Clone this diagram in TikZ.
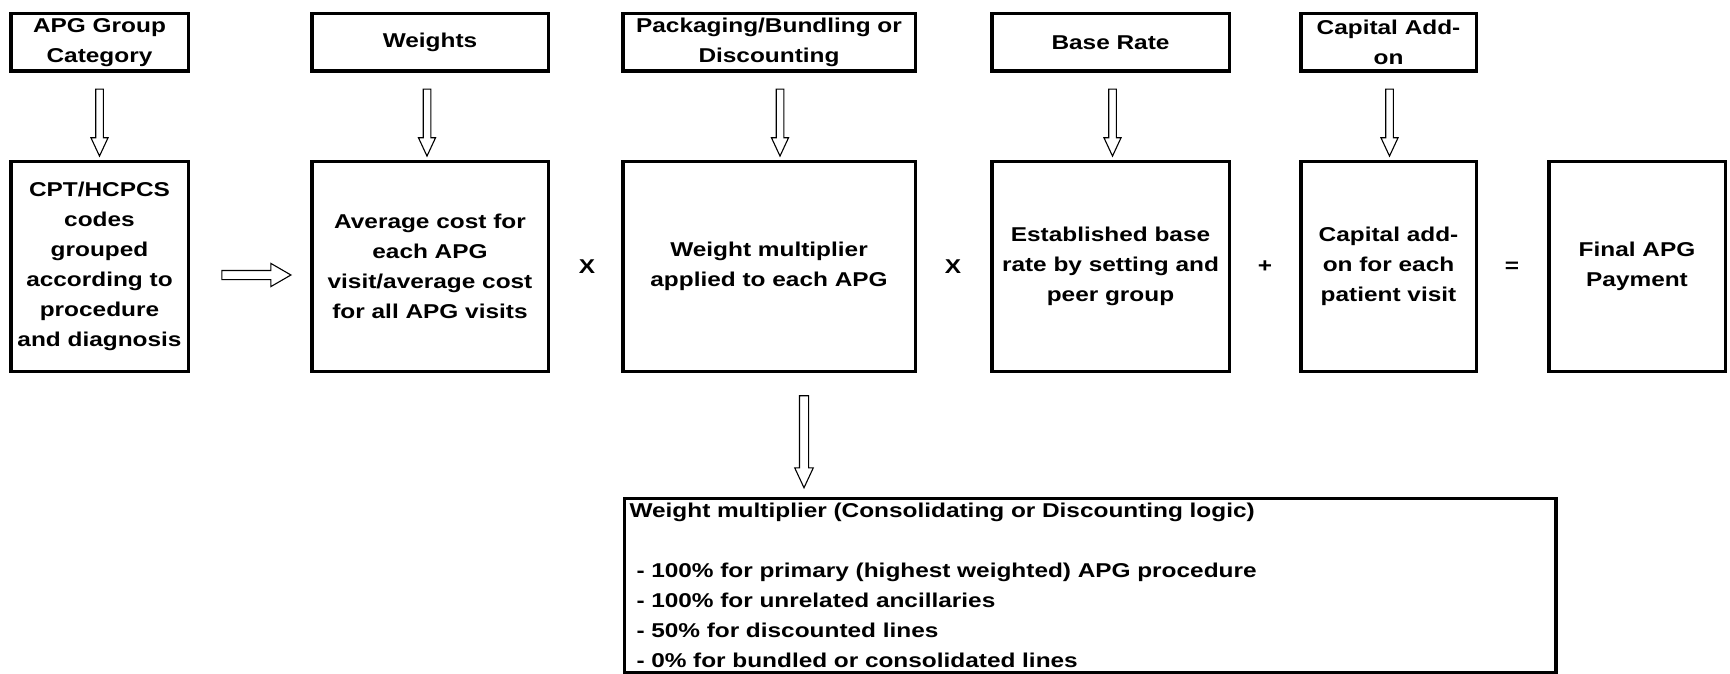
\documentclass[tikz,border=0pt]{standalone}
\usepackage{fontspec}
\setmainfont{Liberation Sans}[FakeStretch=1.22]
\usetikzlibrary{shapes.arrows,positioning,calc}
\newcommand\apgtext{\bfseries\fontsize{20}{30}\selectfont}
\tikzset{
    topbox/.style={draw, line width=3.5pt, minimum height=57.5pt,
    align=center, inner sep=2pt, font=\apgtext},
    stepbox/.style={draw, line width=3.5pt, minimum height=209.5pt,
    align=center, inner sep=2pt, font=\apgtext},
    op/.style={font=\apgtext, inner sep=0pt},
    hollow/.style={single arrow, draw, line width=1.1pt, fill=white,
    single arrow head indent=0pt},
    downarrow/.style={hollow, rotate=-90, inner sep=3.25pt,
    single arrow head extend=4.75pt, single arrow tip angle=50},
    rightarrow/.style={hollow, inner sep=4pt,
    single arrow head extend=7pt, single arrow tip angle=60},
    logicbox/.style={draw, line width=3.5pt, anchor=north west, align=left,
    text width=921.5pt, inner xsep=5pt, inner ysep=5pt,
    font=\bfseries\fontsize{20}{30}\selectfont}
}
\begin{document}
\begin{tikzpicture}[x=1pt, y=-1pt]
  \fill[white] (0,0) rectangle (1730,674);
  \useasboundingbox (0,0) rectangle (1730,674);

  % inputs
  \node[topbox, minimum width=177.5pt] (cat)  at (99.5,42.5)  {APG Group\\Category};
  \node[topbox, minimum width=236.5pt] (wts)  at (430,42.5)   {Weights};
  \node[topbox, minimum width=292.5pt] (pkg)  at (769,42.5)   {Packaging/Bundling or\\Discounting};
  \node[topbox, minimum width=237.5pt] (base) at (1110.5,42.5){Base Rate};
  \node[topbox, minimum width=175.5pt] (cap)  at (1388.5,42.5){Capital Add-\\on};

  % formula row
  \node[stepbox, minimum width=177.5pt] (cpt)   at (99.5,266.5)  {CPT/HCPCS\\codes\\grouped\\according to\\procedure\\and diagnosis};
  \node[stepbox, minimum width=236.5pt] (avg)   at (430,266.5)   {Average cost for\\each APG\\visit/average cost\\for all APG visits};
  \node[stepbox, minimum width=292.5pt] (mult)  at (769,266.5)   {Weight multiplier\\applied to each APG};
  \node[stepbox, minimum width=237.5pt] (rate)  at (1110.5,266.5){Established base\\rate by setting and\\peer group};
  \node[stepbox, minimum width=175.5pt] (addon) at (1388.5,266.5){Capital add-\\on for each\\patient visit};
  \node[stepbox, minimum width=176.5pt] (final) at (1637,266.5)  {Final APG\\Payment};

  \node[op] (x1) at (587,267)  {X};
  \node[op] (x2) at (953,267)  {X};
  \node[op] (pl) at (1265,267) {+};
  \node[op] (eq) at (1512,267) {=};

  % discount logic
  \node[logicbox] (logic) at (622.75,496.75)
    {Weight multiplier (Consolidating or Discounting logic)\\
     \mbox{}\\
     \hspace{7pt}- 100\% for primary (highest weighted) APG procedure\\
     \hspace{7pt}- 100\% for unrelated ancillaries\\
     \hspace{7pt}- 50\% for discounted lines\\
     \hspace{7pt}- 0\% for bundled or consolidated lines};

  % block arrows
  \path ([yshift=-13pt]cat.south) -- node[downarrow, minimum height=67pt] {} ([yshift=9pt]cpt.north);
  \path ([xshift=-3pt,yshift=-13pt]wts.south) -- node[downarrow, minimum height=67pt] {} ([xshift=-3pt,yshift=9pt]avg.north);
  \path ([xshift=11pt,yshift=-13pt]pkg.south) -- node[downarrow, minimum height=67pt] {} ([xshift=11pt,yshift=9pt]mult.north);
  \path ([xshift=2pt,yshift=-13pt]base.south) -- node[downarrow, minimum height=67pt] {} ([xshift=2pt,yshift=9pt]rate.north);
  \path ([xshift=1pt,yshift=-13pt]cap.south) -- node[downarrow, minimum height=67pt] {} ([xshift=1pt,yshift=9pt]addon.north);
  \path ([yshift=-8.5pt,xshift=28pt]cpt.east) -- node[rightarrow, minimum height=69pt] {} ([yshift=-8.5pt,xshift=-23pt]avg.west);
  \path ([xshift=35pt,yshift=-19pt]mult.south) -- node[downarrow, inner sep=4pt, minimum height=92pt] {} ([xshift=35pt,yshift=15pt]logic.north -| mult.south);
\end{tikzpicture}
\end{document}
